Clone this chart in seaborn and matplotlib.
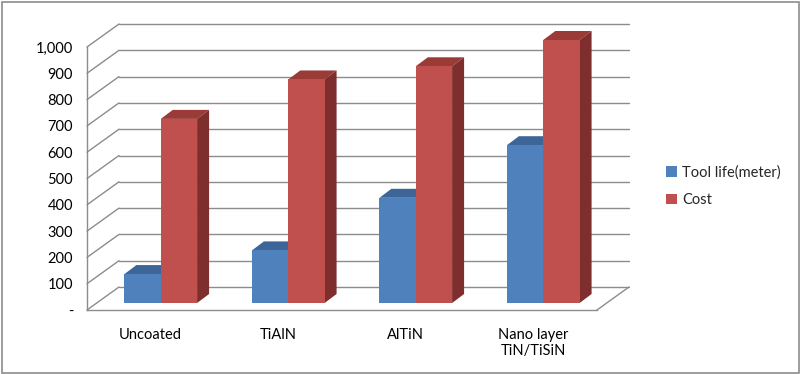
import numpy as np
import pandas as pd
import seaborn as sns
import matplotlib
matplotlib.use("Agg")
import matplotlib.pyplot as plt
from matplotlib.patches import Polygon, Patch, Rectangle
from matplotlib.lines import Line2D
from matplotlib.transforms import ScaledTranslation, IdentityTransform

categories = ["Uncoated", "TiAlN", "AlTiN", "Nano layer\nTiN/TiSiN"]
tool_life = [110, 200, 400, 600]
cost = [700, 850, 900, 1000]
series_names = ["Tool life(meter)", "Cost"]
yticks = [0, 100, 200, 300, 400, 500, 600, 700, 800, 900, 1000]

df = pd.DataFrame({
    "Coating": categories * 2,
    "Series": [series_names[0]] * 4 + [series_names[1]] * 4,
    "Value": tool_life + cost,
})

sns.set_theme(style="white")
plt.rcParams["font.family"] = ["Lato", "DejaVu Sans"]

DPI = 100
W, H = 801, 374
fig = plt.figure(figsize=(W / DPI, H / DPI), dpi=DPI)
fig.patch.set_facecolor("white")

# front plane of the 3D box
L, R, B, T = 87, 597, 310, 47
ax = fig.add_axes([L / W, (H - B) / H, (R - L) / W, (B - T) / H])
ax.set_facecolor("none")

blue, red = "#4F81BD", "#C0504D"
blue_top, red_top = "#3D6597", "#9A3B38"
blue_side, red_side = "#325580", "#7E2E2C"
grid_c = "#8C8C8C"

sns.barplot(data=df, x="Coating", y="Value", hue="Series", order=categories,
            hue_order=series_names, palette=[blue, red], width=0.57,
            saturation=1, ax=ax, legend=False, errorbar=None, zorder=3)
ax.set_xlim(-0.5, 3.5)
ax.set_ylim(0, 1000)

# depth offsets (pixels)
WALL_DX, WALL_DY = 32, 23
BAR_DX, BAR_DY = 10, 7
DEP_DX, DEP_DY = 12, 9

ident = IdentityTransform()

def to_px(x, y):
    return ax.transData.transform((x, y))

# back wall gridlines and left-wall diagonals
for v in yticks:
    x0, y0 = to_px(-0.5, v)
    x1, y1 = to_px(3.5, v)
    fig.add_artist(Line2D([x0 + WALL_DX, x1 + WALL_DX], [y0 + WALL_DY, y1 + WALL_DY],
                          color=grid_c, lw=1.0, transform=ident, zorder=1))
    fig.add_artist(Line2D([x0, x0 + WALL_DX], [y0, y0 + WALL_DY],
                          color=grid_c, lw=1.0, transform=ident, zorder=1))
# right floor diagonal
xr, yr = to_px(3.5, 0)
fig.add_artist(Line2D([xr, xr + WALL_DX], [yr, yr + WALL_DY],
                      color=grid_c, lw=1.0, transform=ident, zorder=1))

# 3D bars: shift front faces and add top/side faces
offset = ScaledTranslation(BAR_DX / DPI, BAR_DY / DPI, fig.dpi_scale_trans)
bars = list(ax.patches)
for p in bars:
    fc = matplotlib.colors.to_hex(p.get_facecolor())
    is_blue = fc.lower() == blue.lower()
    x, w, h = p.get_x(), p.get_width(), p.get_height()
    (px0, py0) = to_px(x, 0)
    (px1, py1) = to_px(x + w, h)
    px0 += BAR_DX; px1 += BAR_DX; py0 += BAR_DY; py1 += BAR_DY
    p.set_visible(False)
    z = 2 if is_blue else 4
    front = Polygon([(px0, py0), (px1, py0), (px1, py1), (px0, py1)], closed=True,
                    facecolor=blue if is_blue else red, edgecolor="none",
                    transform=ident, zorder=z + 0.5)
    top = Polygon([(px0, py1), (px1, py1), (px1 + DEP_DX, py1 + DEP_DY),
                   (px0 + DEP_DX, py1 + DEP_DY)], closed=True,
                  facecolor=blue_top if is_blue else red_top, edgecolor="none",
                  transform=ident, zorder=z)
    side = Polygon([(px1, py0), (px1 + DEP_DX, py0 + DEP_DY),
                    (px1 + DEP_DX, py1 + DEP_DY), (px1, py1)], closed=True,
                   facecolor=blue_side if is_blue else red_side, edgecolor="none",
                   transform=ident, zorder=z)
    for a in (front, top, side):
        fig.add_artist(a)

# axes styling
for s in ["top", "right"]:
    ax.spines[s].set_visible(False)
for s in ["left", "bottom"]:
    ax.spines[s].set_color(grid_c)
    ax.spines[s].set_linewidth(1.0)
    ax.spines[s].set_zorder(1)

ax.set_yticks(yticks)
ax.set_yticklabels(["-" if v == 0 else f"{v:,}" for v in yticks])
ax.set_xticks(range(len(categories)))
ax.set_xticklabels(categories)
ax.set_xticks([-0.5, 0.5, 1.5, 2.5, 3.5], minor=True)
ax.tick_params(axis="x", which="major", length=0, pad=13, labelsize=10.5, colors="#000000")
ax.tick_params(axis="x", which="minor", length=5, width=1, color=grid_c, direction="out")
ax.tick_params(axis="y", length=4, width=1, color=grid_c, direction="out", pad=6,
               labelsize=10.5, labelcolor="#000000")
ax.set_xlabel("")
ax.set_ylabel("")
ax.grid(False)

# legend
handles = [Patch(facecolor=blue, edgecolor="none"), Patch(facecolor=red, edgecolor="none")]
fig.legend(handles, series_names, loc="center left",
           bbox_to_anchor=(666 / W, 1 - 186 / H), frameon=False, fontsize=10.5,
           handlelength=0.75, handleheight=0.75, handletextpad=0.35, labelspacing=0.95,
           borderaxespad=0, borderpad=0)

# outer chart border
fig.add_artist(Rectangle((1.5 / W, 1.5 / H), (W - 3.5) / W, (H - 3.5) / H,
                         transform=fig.transFigure, fill=False, edgecolor="#8C8C8C", lw=1.2))

fig.savefig("out.png", dpi=DPI)
